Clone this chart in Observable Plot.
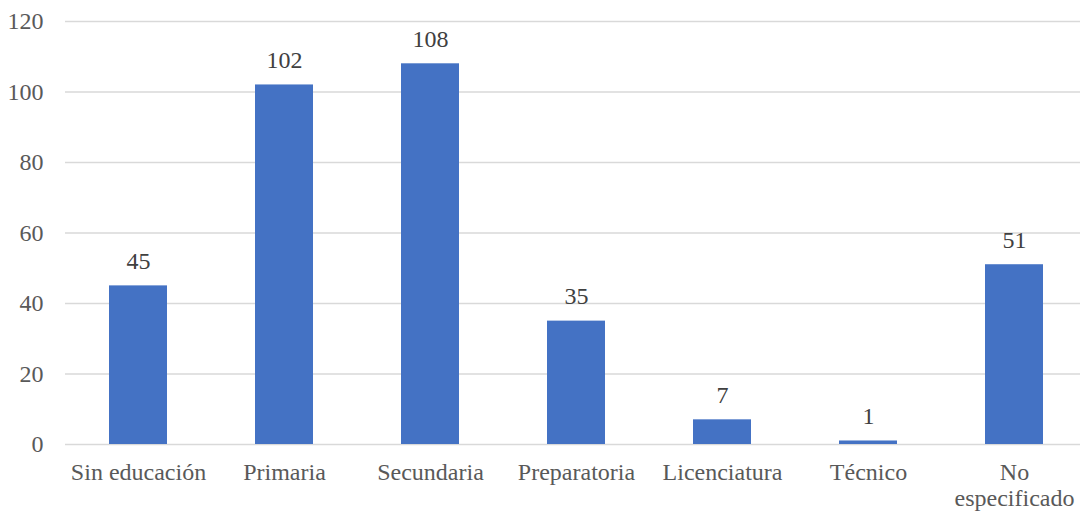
<!DOCTYPE html>
<html>
<head>
<meta charset="utf-8">
<script src="https://cdn.jsdelivr.net/npm/d3@7"></script>
<script src="https://cdn.jsdelivr.net/npm/@observablehq/plot@0.6"></script>
<style>
  html, body { margin: 0; padding: 0; background: #fff; }
  #chart svg { display: block; }
  #chart svg, #chart svg text { font-family: "Liberation Serif", "Times New Roman", serif !important; }
</style>
</head>
<body>
<div id="chart"></div>
<script>
const categories = ["Sin educación", "Primaria", "Secundaria", "Preparatoria", "Licenciatura", "Técnico", "No\nespecificado"];
const values = [45, 102, 108, 35, 7, 1, 51];
const yTicks = [0, 20, 40, 60, 80, 100, 120];

const data = categories.map((c, i) => ({category: c, value: values[i]}));

const chart = Plot.plot({
  width: 1080,
  height: 512,
  marginTop: 21,
  marginBottom: 68,
  marginLeft: 65,
  marginRight: 0,
  style: {fontSize: "24px", color: "#595959", background: "#fff"},
  x: {domain: categories, range: [65, 1087], paddingInner: 0.6, paddingOuter: 0.3, label: null},
  y: {domain: [0, 120], label: null},
  marks: [
    Plot.ruleY(yTicks, {stroke: "#d9d9d9", strokeWidth: 1.5}),
    Plot.barY(data, {x: "category", y: "value", fill: "#4472C4"}),
    Plot.text(data, {x: "category", y: "value", text: d => String(d.value), lineAnchor: "bottom", dy: -17, fontSize: 24, fill: "#404040"}),
    Plot.axisY({ticks: yTicks, tickSize: 0, tickPadding: 22, fontSize: 24, label: null}),
    Plot.axisX({tickSize: 0, tickPadding: 18, fontSize: 24, label: null, lineHeight: 1.05})
  ]
});
document.getElementById("chart").appendChild(chart);
</script>
</body>
</html>
